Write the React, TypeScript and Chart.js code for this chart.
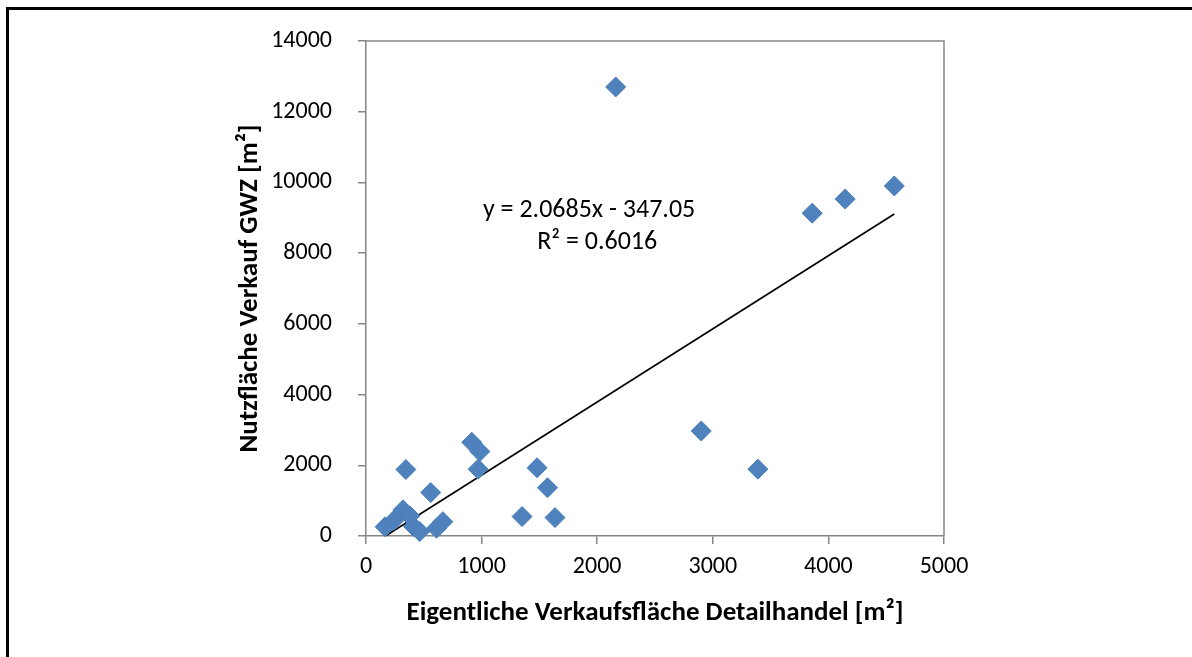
import React, { useEffect, useRef } from "react";
import { Chart, registerables } from "chart.js";

Chart.register(...registerables);

// Scatter data (Eigentliche Verkaufsfläche Detailhandel vs. Nutzfläche Verkauf GWZ)
const xValues = [2160, 4570, 4145, 3860, 2900, 3390, 1480, 1570, 1350, 1635, 915, 985, 970, 345, 560, 665, 610, 165, 245, 320, 380, 410, 465];
const yValues = [12700, 9900, 9530, 9130, 2970, 1890, 1930, 1365, 550, 520, 2650, 2390, 1890, 1880, 1230, 405, 220, 260, 450, 740, 570, 270, 125];

// Linear trendline end points
const trendX = [168, 4570];
const trendY = [0, 9105];

const xTickValues = [0, 1000, 2000, 3000, 4000, 5000];
const yTickValues = [0, 2000, 4000, 6000, 8000, 10000, 12000, 14000];

const equationLines = ["y = 2.0685x - 347.05", "R\u00b2 = 0.6016"];
const equationX = [1930, 2000];
const equationY = [9220, 8300];

const xTitle = "Eigentliche Verkaufsfläche Detailhandel [m\u00b2]";
const yTitle = "Nutzfläche Verkauf GWZ [m\u00b2]";

const FONT = "Carlito, Calibri, Lato, sans-serif";
const AXIS_GRAY = "#868686";

export default function App() {
  const canvasRef = useRef<HTMLCanvasElement | null>(null);

  useEffect(() => {
    document.body.style.margin = "0";
    document.body.style.overflow = "hidden";
    const canvas = canvasRef.current;
    if (!canvas) return;

    const framePlugin = {
      id: "frameAndEquation",
      beforeDatasetsDraw(chart: any) {
        const { ctx, chartArea } = chart;
        ctx.save();
        ctx.strokeStyle = AXIS_GRAY;
        ctx.lineWidth = 1.5;
        ctx.beginPath();
        ctx.moveTo(chartArea.left, chartArea.top);
        ctx.lineTo(chartArea.right, chartArea.top);
        ctx.lineTo(chartArea.right, chartArea.bottom);
        ctx.stroke();
        ctx.restore();
      },
      afterDatasetsDraw(chart: any) {
        const { ctx, scales } = chart;
        ctx.save();
        ctx.fillStyle = "#000";
        ctx.font = `26px ${FONT}`;
        ctx.textAlign = "center";
        ctx.textBaseline = "middle";
        equationLines.forEach((t, i) => {
          ctx.fillText(t, scales.x.getPixelForValue(equationX[i]), scales.y.getPixelForValue(equationY[i]));
        });
        ctx.restore();
      },
    };

    const chart = new Chart(canvas, {
      type: "scatter",
      data: {
        datasets: [
          {
            type: "scatter",
            label: "Daten",
            data: xValues.map((x, i) => ({ x, y: yValues[i] })),
            pointStyle: "rectRot",
            pointRadius: 10,
            pointHoverRadius: 10,
            backgroundColor: "#4F81BD",
            borderColor: "#4A7EBB",
            borderWidth: 1,
            clip: false as any,
          },
          {
            type: "line",
            label: "Trend",
            data: trendX.map((x, i) => ({ x, y: trendY[i] })),
            borderColor: "#000",
            borderWidth: 1.7,
            pointRadius: 0,
            fill: false,
          } as any,
        ],
      },
      options: {
        animation: false,
        responsive: false,
        devicePixelRatio: 1,
        layout: { padding: { top: 41, right: 248, left: 0, bottom: 0 } },
        plugins: {
          legend: { display: false },
          tooltip: { enabled: false },
        },
        scales: {
          x: {
            type: "linear",
            min: 0,
            max: 5000,
            afterBuildTicks: (s: any) => {
              s.ticks = xTickValues.map((v) => ({ value: v }));
            },
            afterFit: (s: any) => {
              s.height = 121;
            },
            ticks: {
              callback: (v: any) => String(v),
              color: "#000",
              font: { family: FONT, size: 24 },
              padding: 9,
              maxRotation: 0,
            },
            grid: { drawOnChartArea: false, drawTicks: true, tickLength: 8, color: AXIS_GRAY, lineWidth: 1.5 },
            border: { display: true, color: AXIS_GRAY, width: 1.5 },
            title: {
              display: true,
              text: xTitle,
              color: "#000",
              font: { family: FONT, size: 27, weight: "bold" },
              padding: { top: 0, bottom: 28 },
            },
          },
          y: {
            type: "linear",
            min: 0,
            max: 14000,
            afterBuildTicks: (s: any) => {
              s.ticks = yTickValues.map((v) => ({ value: v }));
            },
            afterFit: (s: any) => {
              s.width = 366;
            },
            ticks: {
              callback: (v: any) => String(v),
              color: "#000",
              font: { family: FONT, size: 24 },
              padding: 26,
            },
            grid: { drawOnChartArea: false, drawTicks: true, tickLength: 8, color: AXIS_GRAY, lineWidth: 1.5 },
            border: { display: true, color: AXIS_GRAY, width: 1.5 },
            title: {
              display: true,
              text: yTitle,
              color: "#000",
              font: { family: FONT, size: 27, weight: "bold" },
              padding: { top: 234, bottom: 0 },
            },
          },
        },
      },
      plugins: [framePlugin],
    });

    return () => chart.destroy();
  }, []);

  return (
    <div style={{ position: "relative", width: 1192, height: 657, overflow: "hidden", background: "#fff" }}>
      <div
        style={{
          position: "absolute",
          left: 6,
          top: 7,
          width: 1400,
          height: 900,
          borderLeft: "3px solid #000",
          borderTop: "3px solid #000",
          boxSizing: "border-box",
        }}
      />
      <canvas ref={canvasRef} width={1192} height={657} style={{ position: "absolute", left: 0, top: 0 }} />
    </div>
  );
}
